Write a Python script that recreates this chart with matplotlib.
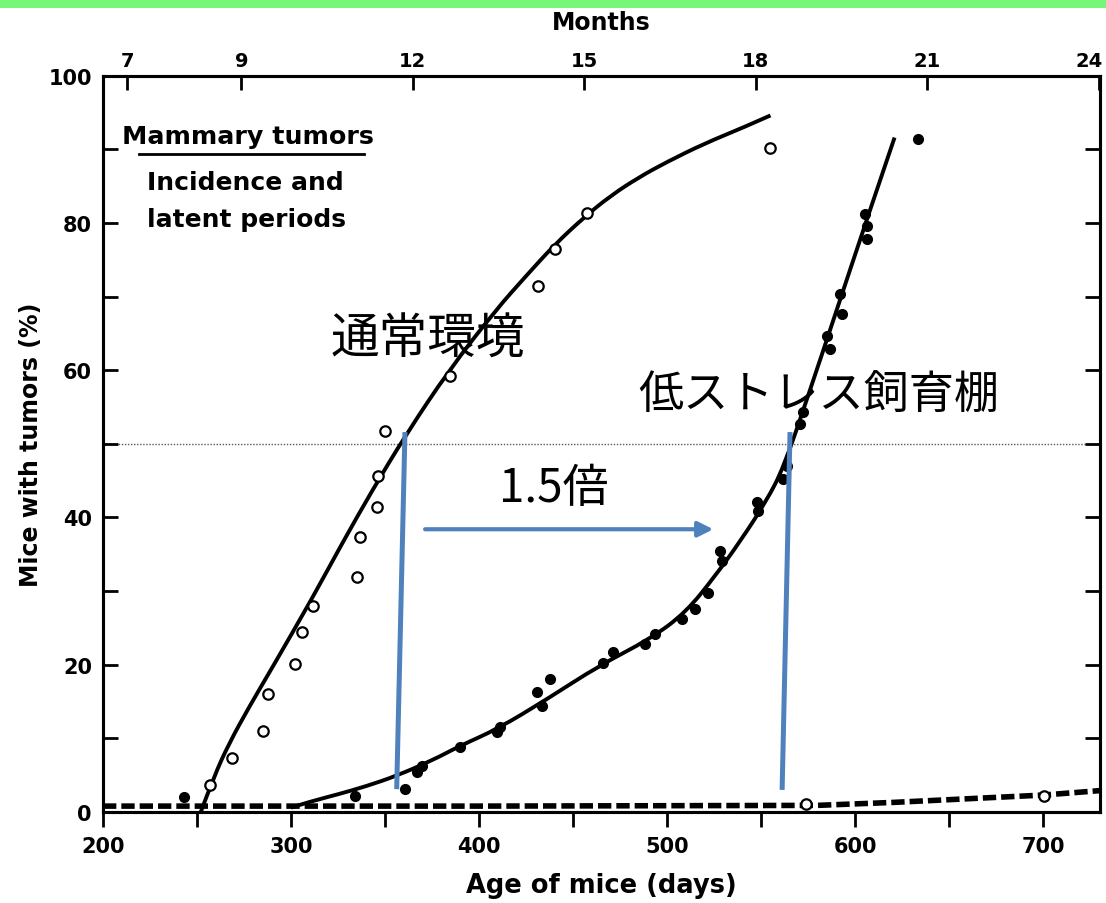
import matplotlib
matplotlib.use("Agg")
import matplotlib.pyplot as plt
from matplotlib.patches import Rectangle, PathPatch
from matplotlib.path import Path
from matplotlib.ticker import MultipleLocator
import matplotlib.transforms as mtransforms

# ---------------- data ----------------
# open circles: normal environment
open_x = [256.9, 268.5, 285.3, 287.9, 302.1, 305.7, 311.9, 334.9, 336.7, 345.6,
          346.4, 350.0, 384.6, 431.4, 440.4, 457.3, 554.8, 573.7, 700.5]
open_y = [3.7, 7.4, 11.0, 16.0, 20.1, 24.4, 28.0, 31.9, 37.3, 41.4,
          45.7, 51.8, 59.2, 71.5, 76.4, 81.4, 90.2, 1.1, 2.2]

# filled circles: low-stress housing
fill_x = [243.0, 334.0, 360.6, 366.9, 369.5, 389.9, 409.4, 411.2, 430.7, 433.4,
          437.8, 466.1, 471.4, 488.3, 493.6, 507.8, 514.9, 522.0, 529.1, 528.2,
          548.6, 547.7, 561.9, 563.7, 570.7, 572.5, 584.9, 586.7, 592.0, 592.9,
          605.3, 606.2, 606.2, 633.7]
fill_y = [2.0, 2.2, 3.1, 5.4, 6.3, 8.8, 10.8, 11.5, 16.3, 14.4,
          18.1, 20.3, 21.7, 22.8, 24.2, 26.2, 27.6, 29.8, 34.1, 35.5,
          40.9, 42.1, 45.2, 47.0, 52.7, 54.3, 64.7, 62.9, 70.3, 67.6,
          81.2, 79.6, 77.8, 91.4]

# fitted curves
normal_curve_x = [252, 259, 267, 278, 290, 311, 327, 343, 361, 384, 409, 425, 440,
                  456, 470, 485, 500, 520, 540, 555]
normal_curve_y = [0.0, 4.8, 9.3, 14.4, 19.6, 28.9, 36.4, 43.6, 51.2, 60.0, 68.2,
                  72.8, 77.0, 80.8, 83.7, 86.2, 88.3, 90.8, 92.9, 94.6]

stress_curve_x = [300, 310, 325, 340, 356, 375, 390, 410, 436, 464, 491, 510, 526,
                  539, 553, 562, 575, 590, 606, 621]
stress_curve_y = [0.6, 1.4, 2.4, 3.5, 4.9, 7.0, 9.0, 11.3, 15.3, 19.9, 23.5, 27.1,
                  32.2, 36.8, 42.3, 46.8, 56.5, 68.0, 80.3, 91.6]

baseline_x = [200, 400, 580, 620, 660, 700, 730]
baseline_y = [0.8, 0.8, 0.9, 1.3, 1.8, 2.3, 2.9]

# annotation (blue) lines: [x0, x1], [y0, y1]
blue1_x = [356.2, 360.6]
blue1_y = [3.1, 51.6]
blue2_x = [561.2, 565.4]
blue2_y = [3.0, 51.6]
arrow_x = [371.3, 524.6]
arrow_y = [38.4, 38.4]

x_ticks = [200, 300, 400, 500, 600, 700]
y_ticks = [0, 20, 40, 60, 80, 100]
month_ticks = [7, 9, 12, 15, 18, 21, 24]
days_per_month = 30.4

BLUE = "#4F81BD"
JP = ["Noto Sans CJK JP", "DejaVu Sans"]


def smooth_path(xs, ys):
    """Quadratic-Bezier path using the traced knots as control points."""
    pts = list(zip(xs, ys))
    verts = [pts[0]]
    codes = [Path.MOVETO]
    for i in range(1, len(pts) - 1):
        mid = ((pts[i][0] + pts[i + 1][0]) / 2, (pts[i][1] + pts[i + 1][1]) / 2)
        if i == len(pts) - 2:
            mid = pts[-1]
        verts += [pts[i], mid]
        codes += [Path.CURVE3, Path.CURVE3]
    return Path(verts, codes)


# ---------------- figure ----------------
fig = plt.figure(figsize=(11.06, 9.04), dpi=100)
fig.patch.set_facecolor("white")
fig.patches.append(Rectangle((0, 1 - 9 / 904), 1, 9 / 904, transform=fig.transFigure,
                             facecolor="#76F777", edgecolor="none", zorder=0))

ax = fig.add_axes([103 / 1106, 1 - 813 / 904, (1099.5 - 103) / 1106, (813 - 76.7) / 904])
ax.set_xlim(200, 730)
ax.set_ylim(0, 100)

for s in ax.spines.values():
    s.set_linewidth(2.2)

# dotted 50 % line
ax.axhline(50, color="0.35", lw=1.0, ls=(0, (1, 1.2)), zorder=1)

# curves
for cx, cy in [(normal_curve_x, normal_curve_y), (stress_curve_x, stress_curve_y)]:
    ax.add_patch(PathPatch(smooth_path(cx, cy), facecolor="none", edgecolor="black",
                           lw=2.8, capstyle="butt", zorder=3))
ax.plot(baseline_x, baseline_y, color="black", lw=4.0, ls=(0, (2.4, 0.9)), zorder=3)

# points
ax.plot(open_x, open_y, ls="none", marker="o", ms=7.5, mfc="white", mec="black",
        mew=1.6, zorder=4)
ax.plot(fill_x, fill_y, ls="none", marker="o", ms=7, mfc="black", mec="black", zorder=4)

# ticks
ax.set_xticks(x_ticks)
ax.xaxis.set_minor_locator(MultipleLocator(50))
ax.set_yticks(y_ticks)
ax.yaxis.set_minor_locator(MultipleLocator(10))
ax.tick_params(axis="x", which="both", direction="out", length=11, width=2.0,
               labelsize=15, pad=6, top=False)
ax.tick_params(axis="y", which="both", direction="in", length=11, width=2.0,
               labelsize=15, pad=8, right=True)
for lab in ax.get_xticklabels() + ax.get_yticklabels():
    lab.set_fontweight("bold")

ax.set_xlabel("Age of mice (days)", fontsize=18.5, fontweight="bold", labelpad=12)
ax.set_ylabel("Mice with tumors (%)", fontsize=17, fontweight="bold", labelpad=4)

# top month axis
ax2 = ax.twiny()
ax2.set_xlim(ax.get_xlim())
ax2.set_xticks([m * days_per_month for m in month_ticks])
ax2.set_xticklabels([str(m) for m in month_ticks], fontsize=14, fontweight="bold")
ax2.tick_params(axis="x", direction="in", length=10, width=2.0, pad=4)
last = ax2.get_xticklabels()[-1]
last.set_transform(last.get_transform() +
                   mtransforms.ScaledTranslation(-10 / 100, 0, fig.dpi_scale_trans))
ax2.set_xlabel("Months", fontsize=17, fontweight="bold", labelpad=16)
for s in ax2.spines.values():
    s.set_linewidth(2.2)

# legend-like title text
ax.text(0.019, 0.918, "Mammary tumors", transform=ax.transAxes, fontsize=18.3,
        fontweight="bold", ha="left", va="center")
ax.plot([0.036, 0.262], [0.893, 0.893], transform=ax.transAxes, color="black", lw=2.0)
ax.text(0.044, 0.856, "Incidence and", transform=ax.transAxes, fontsize=18,
        fontweight="bold", ha="left", va="center")
ax.text(0.044, 0.805, "latent periods", transform=ax.transAxes, fontsize=18,
        fontweight="bold", ha="left", va="center")

# blue annotation lines and arrow
ax.plot(blue1_x, blue1_y, color=BLUE, lw=3.6, solid_capstyle="butt", zorder=5)
ax.plot(blue2_x, blue2_y, color=BLUE, lw=3.6, solid_capstyle="butt", zorder=5)
ax.annotate("", xy=(arrow_x[1], arrow_y[1]), xytext=(arrow_x[0], arrow_y[0]),
            arrowprops=dict(arrowstyle="-|>,head_length=0.9,head_width=0.45",
                            color=BLUE, lw=3.0, shrinkA=0, shrinkB=0), zorder=5)

# Japanese labels
ax.text(372.5, 64.3, "通常環境", family=JP, fontsize=35, ha="center", va="center", zorder=6)
ax.text(580.6, 56.8, "低ストレス飼育棚", family=JP, fontsize=32.5, ha="center", va="center", zorder=6)
ax.text(439.9, 44.1, "1.5倍", family=JP, fontsize=33, ha="center", va="center", zorder=6)

fig.savefig("out.png", dpi=100, facecolor="white")
